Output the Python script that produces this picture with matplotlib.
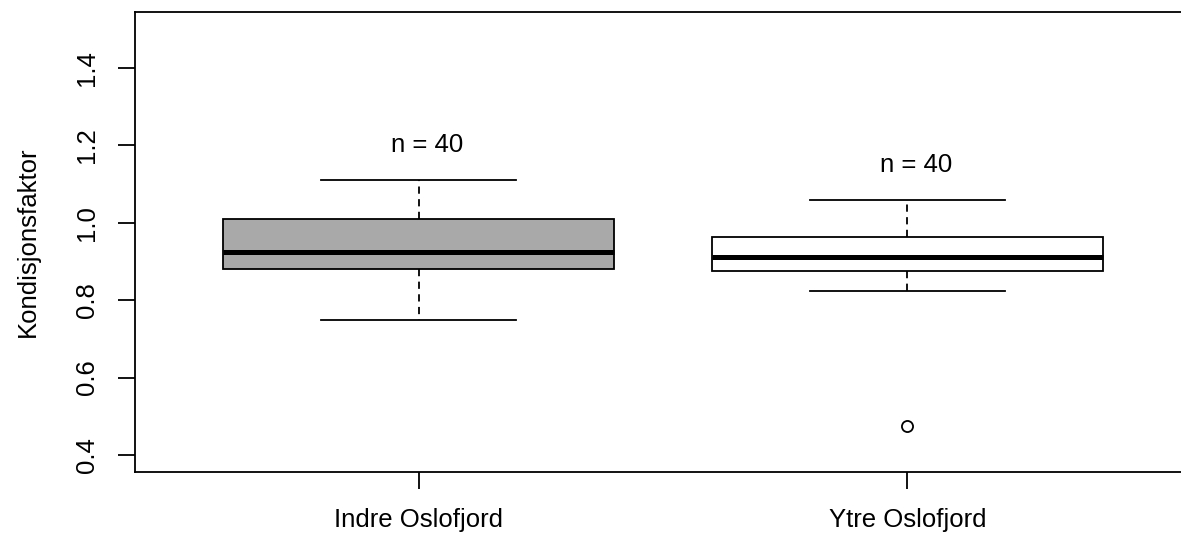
import matplotlib
matplotlib.use("Agg")
import matplotlib.pyplot as plt

plt.rcParams['font.family'] = ['Liberation Sans', 'DejaVu Sans']

# boxplot-statistikk lest av figuren
grupper = ["Indre Oslofjord", "Ytre Oslofjord"]
q1 = [0.880, 0.874]
median = [0.923, 0.910]
q3 = [1.010, 0.962]
whis_lav = [0.749, 0.823]
whis_hoy = [1.110, 1.058]
utliggere = [[], [0.476]]
antall = [40, 40]
farger = ["#A9A9A9", "white"]

stats = []
for i in range(len(grupper)):
    stats.append(dict(label=grupper[i], q1=q1[i], med=median[i], q3=q3[i],
                      whislo=whis_lav[i], whishi=whis_hoy[i], fliers=utliggere[i]))

fig = plt.figure(figsize=(11.81, 5.36), dpi=100)
# aksen går litt utenfor bildet til høyre (beskåret original)
ax = fig.add_axes([135/1181, 64/536, 1056/1181, 460/536])

pos = [1, 2]
bp = ax.bxp(stats, positions=pos, widths=0.8, patch_artist=True,
            capwidths=0.4,
            boxprops=dict(linewidth=1.3, edgecolor="black"),
            medianprops=dict(color="black", linewidth=3.6, solid_capstyle="butt"),
            whiskerprops=dict(color="black", linewidth=1.3, linestyle=(0, (4, 3))),
            capprops=dict(color="black", linewidth=1.3),
            flierprops=dict(marker="o", markerfacecolor="none", markeredgecolor="black",
                            markersize=8, markeredgewidth=1.3))
for patch, c in zip(bp["boxes"], farger):
    patch.set_facecolor(c)

for i in range(len(grupper)):
    ax.text(pos[i] + 0.017, whis_hoy[i] + 0.09, "n = %d" % antall[i],
            ha="center", va="center", fontsize=18.5)

ax.set_xlim(0.42, 2.58)
ax.set_ylim(0.356, 1.544)
ax.set_xticks(pos)
ax.set_xticklabels(grupper, fontsize=18.5)
ax.set_yticks([0.4, 0.6, 0.8, 1.0, 1.2, 1.4])
ax.set_yticklabels(["0.4", "0.6", "0.8", "1.0", "1.2", "1.4"], fontsize=18.5,
                   rotation=90, va="center")
ax.tick_params(axis="both", length=12, width=1.3, pad=14)
ax.set_ylabel("Kondisjonsfaktor", fontsize=18.5, labelpad=25)
for s in ax.spines.values():
    s.set_linewidth(1.3)

fig.savefig("out.png", dpi=100)
